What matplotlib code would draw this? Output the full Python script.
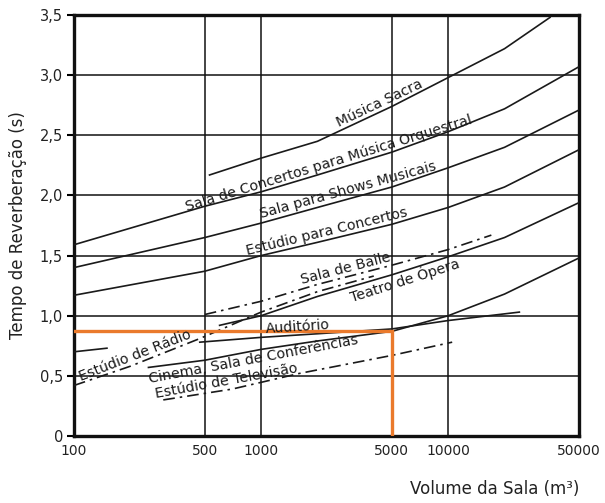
import numpy as np
import matplotlib
matplotlib.use("Agg")
import matplotlib.pyplot as plt

# eixo
volume_ticks = [100, 500, 1000, 5000, 10000, 50000]
volume_tick_labels = ["100", "500", "1000", "5000", "10000", "50000"]
tempo_ticks = [0, 0.5, 1.0, 1.5, 2.0, 2.5, 3.0, 3.5]
tempo_tick_labels = ["0", "0,5", "1,0", "1,5", "2,0", "2,5", "3,0", "3,5"]

# curvas (volume m3 -> tempo s)
sacra_x = [530, 1000, 2000, 5000, 10000, 20000, 35000]
sacra_y = [2.17, 2.31, 2.45, 2.74, 2.98, 3.22, 3.48]

orquestral_x = [100, 500, 1000, 2000, 5000, 10000, 20000, 50000]
orquestral_y = [1.59, 1.91, 2.03, 2.17, 2.36, 2.53, 2.72, 3.07]

shows_x = [100, 500, 1000, 2000, 5000, 10000, 20000, 50000]
shows_y = [1.40, 1.65, 1.77, 1.90, 2.07, 2.23, 2.40, 2.71]

estudio_concertos_x = [100, 500, 1000, 2000, 5000, 10000, 20000, 50000]
estudio_concertos_y = [1.17, 1.37, 1.50, 1.61, 1.76, 1.90, 2.07, 2.38]

baile_x = [500, 1000, 2000, 5000, 10000, 17000]
baile_y = [1.01, 1.12, 1.26, 1.42, 1.55, 1.67]

teatro_x = [600, 1000, 2000, 5000, 10000, 20000, 50000]
teatro_y = [0.92, 1.00, 1.16, 1.34, 1.49, 1.65, 1.94]

radio_x = [100, 200, 470, 1000, 2000, 4000]
radio_y = [0.42, 0.58, 0.81, 1.03, 1.20, 1.33]

auditorio_x = [100, 150, np.nan, 470, 1000, 2000, 5000, 10000, 24000]
auditorio_y = [0.70, 0.73, np.nan, 0.78, 0.82, 0.85, 0.89, 0.96, 1.03]

cinema_x = [250, 500, 1000, 2000, 5000, 10000, 20000, 50000]
cinema_y = [0.57, 0.63, 0.72, 0.79, 0.87, 1.00, 1.18, 1.48]

televisao_x = [300, 700, 1600, 5000, 10500]
televisao_y = [0.30, 0.39, 0.52, 0.67, 0.78]

# exemplo marcado em laranja
exemplo_volume = 5000
exemplo_tempo = 0.87

curves = {
    "sacra": (sacra_x, sacra_y, "-"),
    "orquestral": (orquestral_x, orquestral_y, "-"),
    "shows": (shows_x, shows_y, "-"),
    "estudio_concertos": (estudio_concertos_x, estudio_concertos_y, "-"),
    "baile": (baile_x, baile_y, "dashdot"),
    "teatro": (teatro_x, teatro_y, "-"),
    "radio": (radio_x, radio_y, "dashdot"),
    "auditorio": (auditorio_x, auditorio_y, "-"),
    "cinema": (cinema_x, cinema_y, "-"),
    "televisao": (televisao_x, televisao_y, "dashdot"),
}

curve_labels = [
    ("Música Sacra", "sacra", 4490, 1),
    ("Sala de Concertos para Música Orquestral", "orquestral", 2370, 1),
    ("Sala para Shows Musicais", "shows", 2990, 1),
    ("Estúdio para Concertos", "estudio_concertos", 2310, 1),
    ("Sala de Baile", "baile", 2920, 1),
    ("Teatro de Ópera", "teatro", 5680, -1),
    ("Auditório", "auditorio", 1580, 1),
    ("Estúdio de Rádio", "radio", 220, 1),
    ("Cinema, Sala de Conferências", "cinema", 895, -1),
    ("Estúdio de Televisão", "televisao", 667, 1),
]

plt.rcParams["font.family"] = ["DejaVu Sans"]
fig = plt.figure(figsize=(6.05, 5.03), dpi=100)
ax = fig.add_axes([74 / 605, 1 - 436 / 503, (579 - 74) / 605, (436 - 15) / 503])
ax.set_xscale("log")
ax.set_xlim(100, 50000)
ax.set_ylim(0, 3.5)

ax.set_xticks(volume_ticks)
ax.set_xticklabels(volume_tick_labels, fontsize=10, color="#222222")
ax.xaxis.set_minor_locator(matplotlib.ticker.NullLocator())
ax.set_yticks(tempo_ticks)
ax.set_yticklabels(tempo_tick_labels, fontsize=10.5, color="#222222")
ax.tick_params(axis="x", length=0, pad=6)
ax.tick_params(axis="y", length=5, width=1.5, pad=3, direction="out")
ax.grid(True, color="#111111", linewidth=1.1)
ax.set_axisbelow(True)
for spine in ax.spines.values():
    spine.set_linewidth(2.4)
    spine.set_color("#111111")

dashdot = (0, (7, 3, 1.5, 3))
for key, (xs, ys, style) in curves.items():
    ls = dashdot if style == "dashdot" else "-"
    ax.plot(xs, ys, color="#1a1a1a", linewidth=1.2, linestyle=ls, zorder=3)

ax.plot([100, exemplo_volume, exemplo_volume], [exemplo_tempo, exemplo_tempo, 0],
        color="#ea7a2c", linewidth=2.4, zorder=4, solid_joinstyle="miter")

fig.canvas.draw()
for text, key, x_label, side in curve_labels:
    xs, ys, _ = curves[key]
    xs = np.asarray(xs, dtype=float)
    ys = np.asarray(ys, dtype=float)
    ok = ~np.isnan(xs)
    lx = np.log10(xs[ok])
    y_label = np.interp(np.log10(x_label), lx, ys[ok])
    x_a, x_b = x_label / 1.15, x_label * 1.15
    y_a = np.interp(np.log10(x_a), lx, ys[ok])
    y_b = np.interp(np.log10(x_b), lx, ys[ok])
    p_a = ax.transData.transform((x_a, y_a))
    p_b = ax.transData.transform((x_b, y_b))
    angle = np.degrees(np.arctan2(p_b[1] - p_a[1], p_b[0] - p_a[0]))
    nx, ny = -np.sin(np.radians(angle)), np.cos(np.radians(angle))
    off = 6 * side
    ax.annotate(text, xy=(x_label, y_label), xytext=(nx * off, ny * off),
                textcoords="offset points", ha="center", va="center",
                rotation=angle, rotation_mode="anchor", fontsize=10.2,
                color="#1a1a1a", zorder=5)

ax.set_xlabel("Volume da Sala (m³)", fontsize=12, color="#222222")
ax.xaxis.set_label_coords(1.0, -0.105)
ax.xaxis.label.set_horizontalalignment("right")
ax.set_ylabel("Tempo de Reverberação (s)", fontsize=12, color="#222222")
ax.yaxis.set_label_coords(-0.093, 0.5)

fig.savefig("out.png", dpi=100, facecolor="white")
